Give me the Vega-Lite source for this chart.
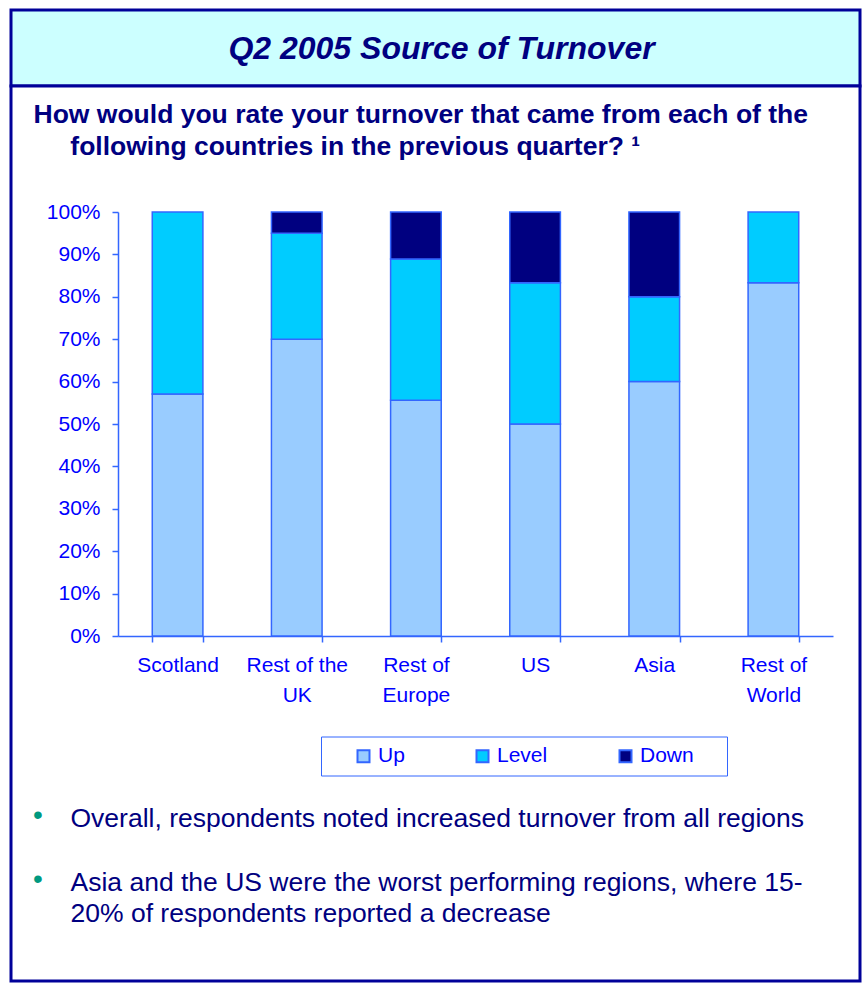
{
  "$schema": "https://vega.github.io/schema/vega-lite/v6.json",
  "padding": {"left": 9, "top": 8, "right": 0, "bottom": 0},
  "background": "white",
  "spacing": 0,
  "bounds": "flush",
  "config": {"font": "Liberation Sans"},
  "title": {
    "text": "Overall, respondents noted increased turnover from all regions",
    "orient": "top",
    "anchor": "start",
    "frame": "group",
    "offset": -824,
    "dx": 59.5,
    "font": "Liberation Sans",
    "fontSize": 26.5,
    "fontWeight": "normal",
    "color": "#000080"
  },
  "vconcat": [
    {
      "width": 849,
      "height": 76,
      "view": {"fill": "#CCFFFF", "stroke": "#000099", "strokeWidth": 3},
      "data": {"values": [{"heading": "Q2 2005 Source of Turnover"}]},
      "mark": {"type": "text", "font": "Liberation Sans", "fontSize": 32, "fontWeight": "bold", "fontStyle": "italic", "color": "#000080", "dx": 6, "dy": 1},
      "encoding": {"text": {"field": "heading", "type": "nominal"}}
    },
    {
      "width": 849,
      "height": 895,
      "view": {"fill": "white", "stroke": "#000099", "strokeWidth": 3},
      "title": {
        "text": ["How would you rate your turnover that came from each of the", "\u200b\u00a0\u00a0\u00a0\u00a0\u00a0following countries in the previous quarter? ¹"],
        "anchor": "start",
        "frame": "group",
        "orient": "top",
        "offset": -74,
        "dx": 22.5,
        "font": "Liberation Sans",
        "fontSize": 26.5,
        "fontWeight": "bold",
        "color": "#000080",
        "lineHeight": 32
      },
      "data": {
        "values": [
          {"region": "Scotland", "trend": "Up", "pct": 57.1, "rank": 1},
          {"region": "Scotland", "trend": "Level", "pct": 42.9, "rank": 2},
          {"region": "Rest of the UK", "trend": "Up", "pct": 70, "rank": 1},
          {"region": "Rest of the UK", "trend": "Level", "pct": 25, "rank": 2},
          {"region": "Rest of the UK", "trend": "Down", "pct": 5, "rank": 3},
          {"region": "Rest of Europe", "trend": "Up", "pct": 55.6, "rank": 1},
          {"region": "Rest of Europe", "trend": "Level", "pct": 33.3, "rank": 2},
          {"region": "Rest of Europe", "trend": "Down", "pct": 11.1, "rank": 3},
          {"region": "US", "trend": "Up", "pct": 50, "rank": 1},
          {"region": "US", "trend": "Level", "pct": 33.3, "rank": 2},
          {"region": "US", "trend": "Down", "pct": 16.7, "rank": 3},
          {"region": "Asia", "trend": "Up", "pct": 60, "rank": 1},
          {"region": "Asia", "trend": "Level", "pct": 20, "rank": 2},
          {"region": "Asia", "trend": "Down", "pct": 20, "rank": 3},
          {"region": "Rest of World", "trend": "Up", "pct": 83.3, "rank": 1},
          {"region": "Rest of World", "trend": "Level", "pct": 16.7, "rank": 2}
        ]
      },
      "mark": {"type": "bar", "stroke": "#3366FF", "strokeWidth": 1.5},
      "encoding": {
        "x": {
          "field": "region",
          "type": "nominal",
          "sort": ["Scotland", "Rest of the UK", "Rest of Europe", "US", "Asia", "Rest of World"],
          "scale": {"range": [107, 822], "paddingInner": 0.575, "paddingOuter": 0.2875},
          "axis": {
            "orient": "bottom",
            "offset": -345,
            "labelAngle": 0,
            "labelExpr": "datum.label == 'Rest of the UK' ? ['Rest of the', 'UK'] : datum.label == 'Rest of Europe' ? ['Rest of', 'Europe'] : datum.label == 'Rest of World' ? ['Rest of', 'World'] : datum.label",
            "labelFontSize": 21,
            "labelColor": "#0000FF",
            "labelPadding": 12,
            "labelLineHeight": 30,
            "labelBaseline": "top",
            "tickBand": "extent",
            "tickSize": 6,
            "tickColor": "#3366FF",
            "tickWidth": 1.5,
            "domainColor": "#3366FF",
            "domainWidth": 1.5,
            "title": ["Asia and the US were the worst performing regions, where 15-", "20% of respondents reported a decrease"],
            "titleX": 59,
            "titleY": 254.5,
            "titleAngle": 0,
            "titleAlign": "left",
            "titleAnchor": "start",
            "titleBaseline": "alphabetic",
            "titleFontSize": 26.5,
            "titleFontWeight": "normal",
            "titleColor": "#000080",
            "titleLineHeight": 31
          }
        },
        "y": {
          "field": "pct",
          "type": "quantitative",
          "stack": "zero",
          "scale": {"domain": [0, 100], "range": [550, 126], "nice": false},
          "axis": {
            "orient": "left",
            "offset": -107,
            "values": [0, 10, 20, 30, 40, 50, 60, 70, 80, 90, 100],
            "labelExpr": "datum.value + '%'",
            "labelFontSize": 21,
            "labelColor": "#0000FF",
            "labelPadding": 12,
            "tickSize": 6,
            "tickColor": "#3366FF",
            "tickWidth": 1.5,
            "domainColor": "#3366FF",
            "domainWidth": 1.5,
            "grid": false,
            "title": ["•", "•"],
            "titleX": -80.5,
            "titleY": 729.5,
            "titleAngle": 0,
            "titleAlign": "center",
            "titleBaseline": "middle",
            "titleFontSize": 28,
            "titleFontWeight": "normal",
            "titleColor": "#009980",
            "titleLineHeight": 64
          }
        },
        "color": {
          "field": "trend",
          "type": "nominal",
          "scale": {"domain": ["Up", "Level", "Down"], "range": ["#99CCFF", "#00CCFF", "#000080"]},
          "legend": {
            "orient": "none",
            "legendX": 310,
            "legendY": 726.5,
            "direction": "horizontal",
            "title": null,
            "symbolOffset": 23,
            "padding": 9,
            "strokeColor": "#3366FF",
            "fillColor": "white",
            "symbolType": "square",
            "symbolSize": 144,
            "symbolStrokeColor": "#3366FF",
            "symbolStrokeWidth": 2,
            "labelFontSize": 21,
            "labelColor": "#0000FF",
            "labelOffset": 4,
            "columnPadding": 44,
            "labelExpr": "datum.label == 'Down' ? 'Down\u00a0\u00a0\u00a0\u00a0\u200b' : datum.label"
          }
        },
        "order": {"field": "rank", "type": "quantitative"}
      }
    }
  ]
}
